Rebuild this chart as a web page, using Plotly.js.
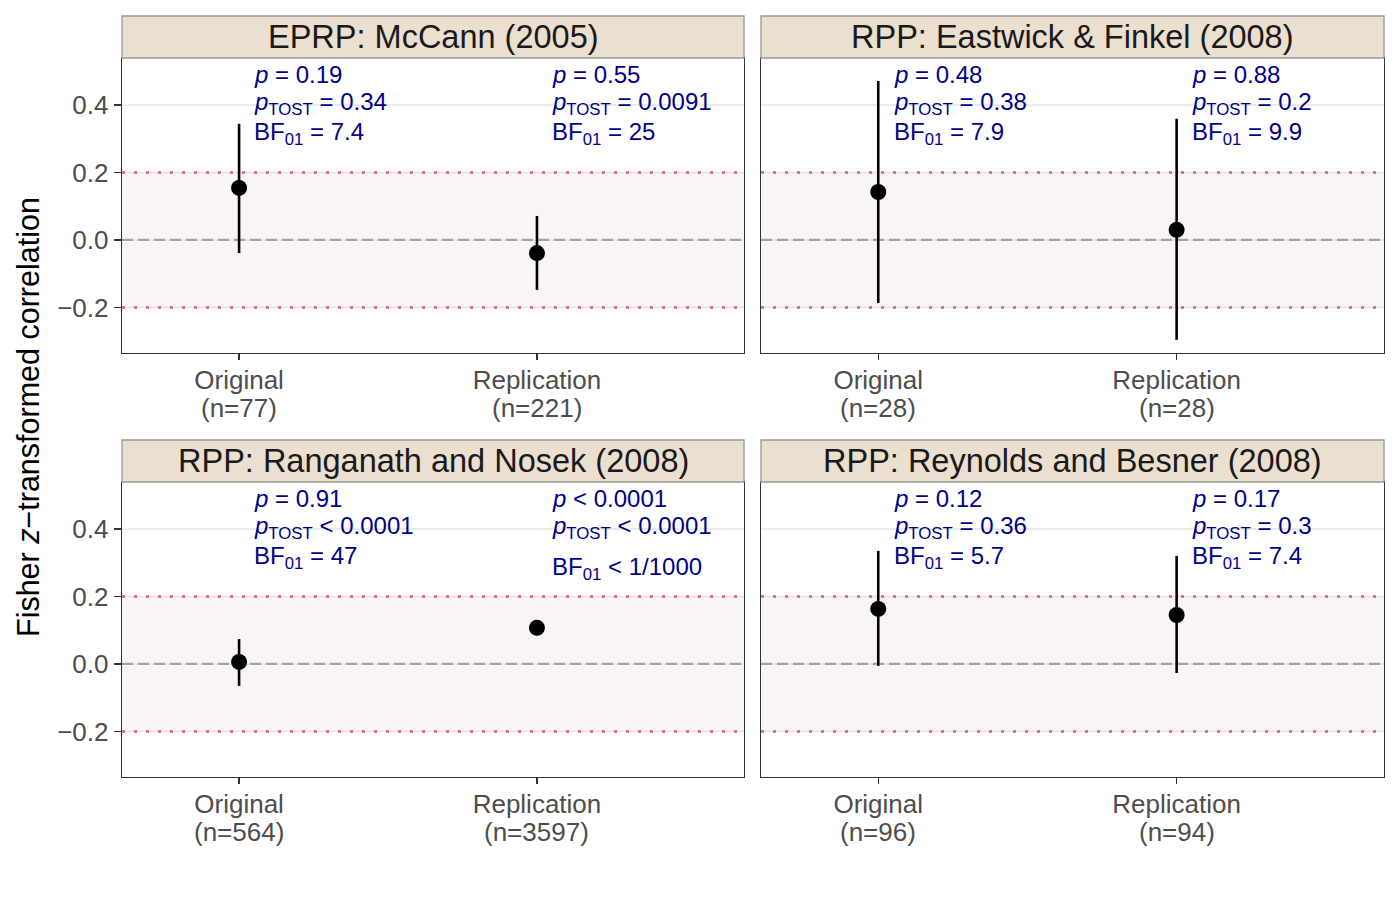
<!DOCTYPE html>
<html>
<head>
<meta charset="utf-8">
<script src="https://cdn.plot.ly/plotly-3.0.1.min.js"></script>
<style>
  html, body { margin: 0; padding: 0; background: #ffffff; }
  #chart { width: 1400px; height: 900px; }
</style>
</head>
<body>
<div id="chart"></div>
<script>
// ---------- data ----------
const studies = [
  "EPRP: McCann (2005)",
  "RPP: Eastwick & Finkel (2008)",
  "RPP: Ranganath and Nosek (2008)",
  "RPP: Reynolds and Besner (2008)"
];
const nOriginal    = [77, 28, 564, 96];
const nReplication = [221, 28, 3597, 94];

const estOriginal = [0.154, 0.142, 0.006, 0.163];
const lowOriginal = [-0.039, -0.187, -0.065, -0.006];
const upOriginal  = [0.344, 0.471, 0.074, 0.335];

const estReplication = [-0.039, 0.030, 0.107, 0.145];
const lowReplication = [-0.148, -0.296, 0.086, -0.027];
const upReplication  = [0.071, 0.359, 0.127, 0.320];

const pOriginal     = ["= 0.19", "= 0.48", "= 0.91", "= 0.12"];
const ptostOriginal = ["= 0.34", "= 0.38", "< 0.0001", "= 0.36"];
const bfOriginal    = ["= 7.4", "= 7.9", "= 47", "= 5.7"];

const pReplication     = ["= 0.55", "= 0.88", "< 0.0001", "= 0.17"];
const ptostReplication = ["= 0.0091", "= 0.2", "< 0.0001", "= 0.3"];
const bfReplication    = ["= 25", "= 9.9", "< 1/1000", "= 7.4"];

const categories = ["Original", "Replication"];
const equivalenceMargin = 0.2;
const yTicks = [-0.2, 0, 0.2, 0.4];
const yTickText = ["\u22120.2", "0.0", "0.2", "0.4"];

// ---------- layout helpers ----------
const W = 1400, H = 900;
const colsPx = [[122, 744], [761, 1384]];
const rowsPx = [[58, 353], [482, 777]];
const stripH = 42;
const yRange = [-0.335, 0.539];
const xRange = [0.607, 2.695];

const FF = "Liberation Sans, Arial, sans-serif";
const tickFont = {family: FF, size: 26, color: "#4D4D4D"};
const annFont  = {family: FF, size: 24, color: "#00008B"};

const traces = [];
const layout = {
  width: W, height: H,
  margin: {l: 0, r: 0, t: 0, b: 0},
  paper_bgcolor: "#ffffff",
  plot_bgcolor: "#ffffff",
  showlegend: false,
  shapes: [],
  annotations: []
};

studies.forEach((title, i) => {
  const r = Math.floor(i / 2), c = i % 2;
  const sfx = i === 0 ? "" : String(i + 1);
  const xa = "x" + sfx, ya = "y" + sfx;
  const [x0, x1] = colsPx[c];
  const [y0, y1] = rowsPx[r];
  const ph = y1 - y0;

  layout["xaxis" + sfx] = {
    domain: [x0 / W, x1 / W],
    range: xRange,
    anchor: ya,
    tickvals: [1, 2],
    ticktext: categories,
    ticks: "outside", ticklen: 6, tickwidth: 1.5, tickcolor: "#333333",
    ticklabelstandoff: -3,
    tickfont: tickFont,
    showgrid: false, zeroline: false,
    showline: true, mirror: true, linecolor: "#333333", linewidth: 1.3,
    fixedrange: true
  };
  layout["yaxis" + sfx] = {
    domain: [1 - y1 / H, 1 - y0 / H],
    range: yRange,
    anchor: xa,
    tickvals: yTicks,
    ticktext: yTickText,
    ticks: c === 0 ? "outside" : "",
    ticklen: 7, tickwidth: 1.5, tickcolor: "#333333",
    showticklabels: c === 0,
    tickfont: tickFont,
    showgrid: false,
    zeroline: false,
    showline: true, mirror: true, linecolor: "#333333", linewidth: 1.3,
    fixedrange: true
  };

  // sample-size second line of the category labels
  [[1, nOriginal[i]], [2, nReplication[i]]].forEach(([cx, n]) => {
    layout.annotations.push({
      xref: xa, yref: ya + " domain", x: cx, y: -55 / ph,
      xanchor: "center", yanchor: "middle",
      text: "(n=" + n + ")", showarrow: false, font: tickFont
    });
  });

  // gridlines (drawn as shapes so reference lines can sit above them)
  yTicks.forEach(v => {
    layout.shapes.push({
      type: "line", xref: xa + " domain", yref: ya,
      x0: 0, x1: 1, y0: v, y1: v,
      line: {color: "#EBEBEB", width: 2}, layer: "below"
    });
  });
  // equivalence band and reference lines
  layout.shapes.push({
    type: "rect", xref: xa + " domain", yref: ya,
    x0: 0, x1: 1, y0: -equivalenceMargin, y1: equivalenceMargin,
    fillcolor: "rgba(230,200,200,0.18)", line: {width: 0}, layer: "below"
  });
  [-equivalenceMargin, equivalenceMargin].forEach(v => {
    layout.shapes.push({
      type: "line", xref: xa + " domain", yref: ya,
      x0: 0, x1: 1, y0: v, y1: v,
      line: {color: "#E3607A", width: 2.5, dash: "3px,9px"}, layer: "below"
    });
  });
  layout.shapes.push({
    type: "line", xref: xa + " domain", yref: ya,
    x0: 0, x1: 1, y0: 0, y1: 0,
    line: {color: "#A3A3A3", width: 2.2, dash: "11px,5px"}, layer: "below"
  });
  // strip
  layout.shapes.push({
    type: "rect", xref: xa + " domain", yref: ya + " domain",
    x0: 0, x1: 1, y0: 1, y1: 1 + stripH / ph,
    fillcolor: "#EBE0D0", line: {color: "#999999", width: 1.3}, layer: "above"
  });
  layout.annotations.push({
    xref: xa + " domain", yref: ya + " domain",
    x: 0.5, y: 1 + (stripH / 2) / ph,
    xanchor: "center", yanchor: "middle",
    text: title, showarrow: false,
    font: {family: FF, size: 32.5, color: "#1A1A1A"}
  });

  // points with intervals
  traces.push({
    type: "scatter", mode: "markers",
    xaxis: xa, yaxis: ya,
    x: [1, 2],
    y: [estOriginal[i], estReplication[i]],
    error_y: {
      type: "data", symmetric: false,
      array: [upOriginal[i] - estOriginal[i], upReplication[i] - estReplication[i]],
      arrayminus: [estOriginal[i] - lowOriginal[i], estReplication[i] - lowReplication[i]],
      width: 0, thickness: 2.6, color: "#000000"
    },
    marker: {color: "#000000", size: 16},
    hoverinfo: "skip"
  });

  // text annotations
  const blocks = [
    {x: 1, p: pOriginal[i], pt: ptostOriginal[i], bf: bfOriginal[i]},
    {x: 2, p: pReplication[i], pt: ptostReplication[i], bf: bfReplication[i]}
  ];
  const lineY = [0.489, 0.403, 0.314];
  blocks.forEach(b => {
    const lines = [
      "<i>p</i> " + b.p,
      "<i>p</i><sub>TOST</sub> " + b.pt,
      "BF<sub>01</sub> " + b.bf
    ];
    lines.forEach((t, k) => {
      let yy = lineY[k];
      if (k === 2 && b.bf.indexOf("/") >= 0) yy -= 0.03;
      layout.annotations.push({
        xref: xa, yref: ya, x: b.x + 0.045, y: yy,
        xanchor: "left", yanchor: "middle",
        text: t, showarrow: false, font: annFont
      });
    });
  });
});

// global y title
layout.annotations.push({
  xref: "paper", yref: "paper", x: 28 / W, y: 1 - 417 / H,
  xanchor: "center", yanchor: "middle", textangle: -90,
  text: "Fisher <i>z</i>\u2212transformed correlation", showarrow: false,
  font: {family: FF, size: 30.5, color: "#000000"}
});

Plotly.newPlot("chart", traces, layout, {displayModeBar: false, staticPlot: true});
</script>
</body>
</html>
